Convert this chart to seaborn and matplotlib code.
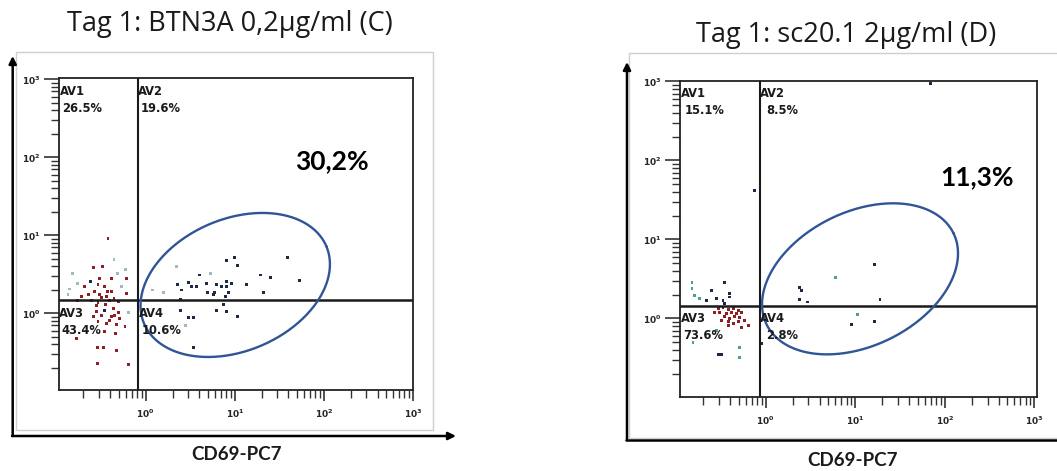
import numpy as np
import pandas as pd
import matplotlib
matplotlib.use("Agg")
import matplotlib.pyplot as plt
import seaborn as sns
from matplotlib.patches import FancyArrowPatch, Rectangle
from matplotlib.lines import Line2D
from matplotlib.ticker import LogLocator, NullFormatter

sns.set_style("ticks")
plt.rcParams["font.family"] = ["DejaVu Sans"]
plt.rcParams["xtick.bottom"] = True
plt.rcParams["ytick.left"] = True

# ---------------- data: panel C (BTN3A 0,2 µg/ml) ----------------
c_red_x = [0.377, 0.262, 0.325, 0.299, 0.41, 0.605, 0.203, 0.291, 0.34, 0.267,
           0.41, 0.605, 0.225, 0.304, 0.361, 0.189, 0.245, 0.394, 0.291, 0.173,
           0.279, 0.43, 0.489, 0.256, 0.317, 0.41, 0.51, 0.291, 0.361, 0.467,
           0.346, 0.165, 0.289, 0.334, 0.472, 0.289, 0.637, 0.452, 0.585,
           0.32, 0.37, 0.44, 0.28, 0.35, 0.50, 0.39, 0.45]
c_red_y = [9.16, 3.84, 4.04, 2.81, 2.81, 2.81, 2.19, 2.31, 2.19, 1.89,
           1.89, 1.80, 1.72, 1.72, 1.63, 1.63, 1.48, 1.48, 1.38, 1.48,
           1.05, 1.16, 1.03, 0.90, 0.95, 0.90, 0.86, 0.78, 0.74, 0.71,
           0.58, 0.48, 0.36, 0.36, 0.33, 0.23, 0.22, 0.55, 0.67,
           1.60, 1.90, 1.55, 1.25, 1.30, 1.40, 0.82, 0.95]
c_dark_x = [0.241, 0.346, 7.98, 9.9, 10.7, 39.0, 52.8, 24.9, 19.2, 13.4, 20.8,
            9.25, 8.13, 8.13, 7.14, 6.28, 5.85, 4.0, 4.85, 3.67, 3.29, 3.01,
            2.27, 2.54, 4.97, 5.75, 8.48, 7.78, 7.45, 6.17, 8.13, 10.8, 2.47,
            3.01, 3.43, 3.43, 2.43]
c_dark_y = [2.54, 1.10, 4.82, 5.22, 4.16, 5.22, 2.67, 2.86, 3.10, 2.35, 1.86,
            2.42, 2.59, 2.19, 2.19, 2.35, 1.86, 3.10, 2.42, 2.19, 2.19, 2.47,
            2.31, 1.99, 1.86, 1.72, 1.86, 1.63, 1.30, 1.10, 1.05, 0.90, 1.10,
            0.89, 0.89, 0.36, 1.51]
c_light_x = [0.44, 0.596, 0.48, 0.152, 0.173, 0.532, 0.14, 0.134, 0.633,
             2.23, 1.58, 1.20, 2.77, 5.28]
c_light_y = [4.92, 3.66, 3.26, 3.26, 2.42, 2.19, 2.05, 1.72, 1.03,
             3.96, 1.86, 1.99, 0.69, 3.26]

# ---------------- data: panel D (sc20.1 2 µg/ml) ----------------
d_red_x = [0.293, 0.333, 0.379, 0.431, 0.491, 0.269, 0.306, 0.363, 0.413,
           0.470, 0.534, 0.348, 0.396, 0.451, 0.512, 0.319, 0.379, 0.431,
           0.491, 0.582, 0.634, 0.534, 0.379]
d_red_y = [1.33, 1.37, 1.29, 1.33, 1.26, 1.20, 1.17, 1.15, 1.17,
           1.15, 1.20, 1.04, 0.99, 1.04, 1.02, 0.94, 0.90, 0.86,
           0.90, 0.94, 0.81, 0.76, 0.81]
d_dark_x = [0.348, 0.247, 0.396, 0.396, 0.217, 0.281, 0.333, 0.348, 0.293,
            0.319, 0.74, 68.5, 0.90, 16.3, 2.37, 2.52, 2.37, 2.92, 18.9,
            9.14, 16.3]
d_dark_y = [2.83, 2.26, 2.05, 1.86, 1.69, 1.78, 1.69, 1.54, 0.35,
            0.35, 41.7, 935.0, 0.48, 4.78, 2.45, 2.26, 1.74, 1.61, 1.72,
            0.84, 0.90]
d_teal_x = [0.150, 0.150, 0.161, 0.183, 0.281, 0.154, 0.512, 0.512, 6.0, 10.6]
d_teal_y = [2.83, 2.38, 1.95, 1.78, 0.70, 0.50, 0.43, 0.32, 3.27, 1.11]

# quadrant gates (x, y) and quadrant percentages
c_gate = (0.82, 1.50)
d_gate = (0.86, 1.43)
c_quad = ["26.5%", "19.6%", "43.4%", "10.6%"]
d_quad = ["15.1%", "8.5%", "73.6%", "2.8%"]
quad_names = ["AV1", "AV2", "AV3", "AV4"]

# elliptical region gate: centre (data), semi-axes (px), tilt (deg), share
c_ellipse = dict(cx=10.1, cy=2.31, a=99, b=66, angle=23)
d_ellipse = dict(cx=11.3, cy=3.16, a=104, b=67, angle=26)
c_share = "30,2%"
d_share = "11,3%"

titles = ["Tag 1: BTN3A 0,2\u00b5g/ml (C)", "Tag 1: sc20.1 2\u00b5g/ml (D)"]
x_label = "CD69-PC7"
tick_vals = [1, 10, 100, 1000]
tick_labels = [r"$\mathbf{10^{0}}$", r"$\mathbf{10^{1}}$",
               r"$\mathbf{10^{2}}$", r"$\mathbf{10^{3}}$"]

palette = {"red": "#8e1f22", "dark": "#1e2a45", "light": "#9fbcbc",
           "teal": "#4f9e93"}

W, H = 1057, 471
fig = plt.figure(figsize=(W / 100, H / 100), dpi=100)
fig.patch.set_facecolor("white")


def fp(x, y):
    """pixel position -> figure fraction"""
    return x / W, 1 - y / H


def frame(ax):
    ax.set_xscale("log")
    ax.set_yscale("log")
    ax.set_xticks(tick_vals)
    ax.set_xticklabels(tick_labels)
    ax.set_yticks(tick_vals)
    ax.set_yticklabels(tick_labels)
    ax.xaxis.set_minor_locator(LogLocator(base=10, subs=np.arange(2, 10)))
    ax.yaxis.set_minor_locator(LogLocator(base=10, subs=np.arange(2, 10)))
    ax.xaxis.set_minor_formatter(NullFormatter())
    ax.yaxis.set_minor_formatter(NullFormatter())
    ax.tick_params(axis="both", which="both", bottom=True, left=True,
                   top=False, right=False, direction="out")
    ax.tick_params(axis="both", which="major", length=11, width=1.1,
                   labelsize=6.5, color="#222222", pad=2)
    ax.tick_params(axis="both", which="minor", length=5.5, width=1.0,
                   color="#333333")
    ax.tick_params(axis="x", which="major", length=8, pad=5)
    for s in ax.spines.values():
        s.set_visible(True)
        s.set_color("#222222")
        s.set_linewidth(1.3)
    ax.set_xlabel("")
    ax.set_ylabel("")
    ax.grid(False)


def draw_gate(ax, cx, cy, a, b, angle):
    bbox = ax.get_position()
    w_px = bbox.width * W
    h_px = bbox.height * H
    x0, x1 = np.log10(ax.get_xlim())
    y0, y1 = np.log10(ax.get_ylim())
    fx = (np.log10(cx) - x0) / (x1 - x0)
    fy = (np.log10(cy) - y0) / (y1 - y0)
    t = np.linspace(0, 2 * np.pi, 400)
    th = np.deg2rad(angle)
    dx = a * np.cos(t) * np.cos(th) - b * np.sin(t) * np.sin(th)
    dy = a * np.cos(t) * np.sin(th) + b * np.sin(t) * np.cos(th)
    ax.plot(fx + dx / w_px, fy + dy / h_px, transform=ax.transAxes,
            color="#2f5597", lw=1.7, clip_on=False, zorder=5)


def panel(rect, xs, ys, pops, gate, xlim, ylim):
    ax = fig.add_axes(rect)
    df = pd.DataFrame({"x": np.concatenate(xs), "y": np.concatenate(ys),
                       "pop": np.concatenate([[p] * len(x) for p, x in zip(pops, xs)])})
    sns.scatterplot(data=df, x="x", y="y", hue="pop", palette=palette,
                    marker="s", s=4.5, linewidth=0, legend=False, ax=ax, zorder=3)
    frame(ax)
    ax.set_xlim(*xlim)
    ax.set_ylim(*ylim)
    ax.axvline(gate[0], color="#1a1a1a", lw=1.5, zorder=4)
    ax.axhline(gate[1], color="#1a1a1a", lw=1.8, zorder=4)
    return ax


# panel C: box 59..413 x 78..390 px
l, b = fp(59, 390)
axC = panel([l, b, 354 / W, 312 / H],
            [c_red_x, c_dark_x, c_light_x], [c_red_y, c_dark_y, c_light_y],
            ["red", "dark", "light"], c_gate, (10 ** -0.974, 10 ** 3.0),
            (10 ** -0.983, 10 ** 3.017))
draw_gate(axC, **c_ellipse)

# panel D: box 680..1037 x 81..397 px
l, b = fp(680, 397)
axD = panel([l, b, 357 / W, 316 / H],
            [d_red_x, d_dark_x, d_teal_x], [d_red_y, d_dark_y, d_teal_y],
            ["red", "dark", "teal"], d_gate, (10 ** -0.958, 10 ** 3.03),
            (10 ** -0.996, 10 ** 3.004))
draw_gate(axD, **d_ellipse)

# light outer frames
for (x0, y0, x1, y1) in [(15.7, 51.7, 432.7, 430), (629, 53, 1062, 438)]:
    fig.add_artist(Rectangle(fp(x0, y1), (x1 - x0) / W, (y1 - y0) / H,
                             transform=fig.transFigure, fill=False,
                             ec="#cfcfcf", lw=1.0))

# arrow axes
arrow_kw = dict(transform=fig.transFigure, arrowstyle="-|>", mutation_scale=11,
                lw=1.8, color="black", shrinkA=0, shrinkB=0)
fig.add_artist(FancyArrowPatch(fp(12.7, 436), fp(12.7, 56), **arrow_kw))
fig.add_artist(FancyArrowPatch(fp(12, 436), fp(456, 436), **arrow_kw))
fig.add_artist(FancyArrowPatch(fp(627, 440), fp(627, 62), **arrow_kw))
fig.add_artist(Line2D([626 / W, 1], [1 - 440 / H, 1 - 440 / H],
                      transform=fig.transFigure, color="black", lw=1.8))

# titles, axis labels, gate shares
title_font = dict(family="Open Sans", fontsize=19.5, ha="center",
                  va="center", color="#1a1a1a")
fig.text(*fp(230, 24), titles[0], **title_font)
fig.text(*fp(846, 35), titles[1], **title_font)
lab_font = dict(family="Lato", fontsize=13.5, fontweight="bold", ha="center",
                va="center", color="#1a1a1a")
fig.text(*fp(237, 455), x_label, **lab_font)
fig.text(*fp(853, 461), x_label, **lab_font)
share_font = dict(family="Lato", fontsize=19, fontweight="bold", ha="center",
                  va="center", color="black")
fig.text(*fp(331.5, 161), c_share, **share_font)
fig.text(*fp(977, 177), d_share, **share_font)

# quadrant labels
q_font = dict(fontsize=8.3, fontweight="bold", ha="left", va="top",
              color="#1a1a1a")


def quad_labels(pos, names, vals):
    for (x, y, dx), n, v in zip(pos, names, vals):
        fig.text(*fp(x, y), n, **q_font)
        fig.text(*fp(x + dx, y + 17), v, **q_font)


quad_labels([(60, 85, 2), (138, 85, 3), (59, 307, 2), (139, 307, 3)],
            quad_names, c_quad)
quad_labels([(681, 87, 4), (760, 87, 6), (681, 312, 2), (760, 312, 6)],
            quad_names, d_quad)

fig.savefig("out.png", dpi=100, facecolor="white")
